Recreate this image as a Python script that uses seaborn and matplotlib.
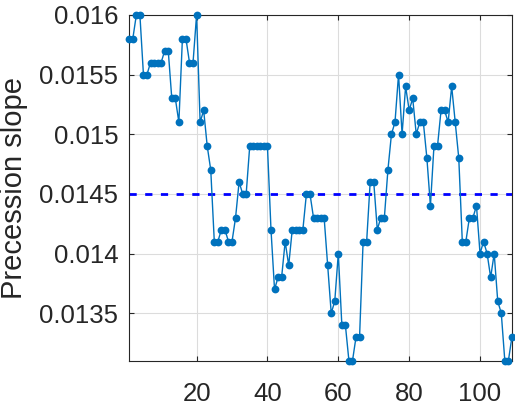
import numpy as np
import pandas as pd
import matplotlib
matplotlib.use("Agg")
import matplotlib.pyplot as plt
import seaborn as sns

# precession slope per sample
slope = [
    0.0158, 0.0158, 0.0160, 0.0160, 0.0155, 0.0155, 0.0156, 0.0156, 0.0156, 0.0156,
    0.0157, 0.0157, 0.0153, 0.0153, 0.0151, 0.0158, 0.0158, 0.0156, 0.0156, 0.0160,
    0.0151, 0.0152, 0.0149, 0.0147, 0.0141, 0.0141, 0.0142, 0.0142, 0.0141, 0.0141,
    0.0143, 0.0146, 0.0145, 0.0145, 0.0149, 0.0149, 0.0149, 0.0149, 0.0149, 0.0149,
    0.0142, 0.0137, 0.0138, 0.0138, 0.0141, 0.0139, 0.0142, 0.0142, 0.0142, 0.0142,
    0.0145, 0.0145, 0.0143, 0.0143, 0.0143, 0.0143, 0.0139, 0.0135, 0.0136, 0.0140,
    0.0134, 0.0134, 0.0131, 0.0131, 0.0133, 0.0133, 0.0141, 0.0141, 0.0146, 0.0146,
    0.0142, 0.0143, 0.0143, 0.0147, 0.0150, 0.0151, 0.0155, 0.0150, 0.0154, 0.0152,
    0.0153, 0.0150, 0.0151, 0.0151, 0.0148, 0.0144, 0.0149, 0.0149, 0.0152, 0.0152,
    0.0151, 0.0154, 0.0151, 0.0148, 0.0141, 0.0141, 0.0143, 0.0143, 0.0144, 0.0140,
    0.0141, 0.0140, 0.0138, 0.0140, 0.0136, 0.0135, 0.0131, 0.0131, 0.0133,
]
sample = list(range(1, len(slope) + 1))
mean_slope = 0.0145

x_ticks = [20, 40, 60, 80, 100]
y_ticks = [0.0135, 0.014, 0.0145, 0.015, 0.0155, 0.016]
y_ticklabels = ["0.0135", "0.014", "0.0145", "0.015", "0.0155", "0.016"]

sns.set_theme(style="whitegrid")
plt.rcParams['font.family'] = ['Liberation Sans', 'DejaVu Sans']

df = pd.DataFrame({"sample": sample, "slope": slope})

fig = plt.figure(figsize=(5.15, 4.12), dpi=100)
ax = fig.add_axes([0.251, 0.124, 0.743, 0.840])

sns.lineplot(data=df, x="sample", y="slope", ax=ax, color="#0072BD",
             linewidth=1.0, marker="o", markersize=5.6, markeredgewidth=0,
             clip_on=False, zorder=3)
ax.axhline(mean_slope, color="#0000FF", linewidth=2.0,
           dashes=(2.6, 3.05), zorder=2)

ax.set_xlim(1, 109)
ax.set_ylim(0.0131, 0.016)
ax.set_xticks(x_ticks)
ax.set_yticks(y_ticks)
ax.set_yticklabels(y_ticklabels)
ax.set_xlabel("")
ax.set_ylabel("Precession slope", fontsize=21, color="#262626", labelpad=8)

ax.set_facecolor("white")
ax.grid(True, color="#dcdcdc", linewidth=0.8)
for side in ax.spines.values():
    side.set_visible(True)
    side.set_color("#262626")
    side.set_linewidth(0.8)
ax.tick_params(axis="both", which="both", direction="in", length=3.5,
               width=0.8, color="#262626", labelcolor="#262626",
               labelsize=18.5, top=True, right=True, left=True, bottom=True)
ax.tick_params(axis="x", pad=15)
ax.tick_params(axis="y", pad=8)

fig.savefig("out.png", dpi=100)
